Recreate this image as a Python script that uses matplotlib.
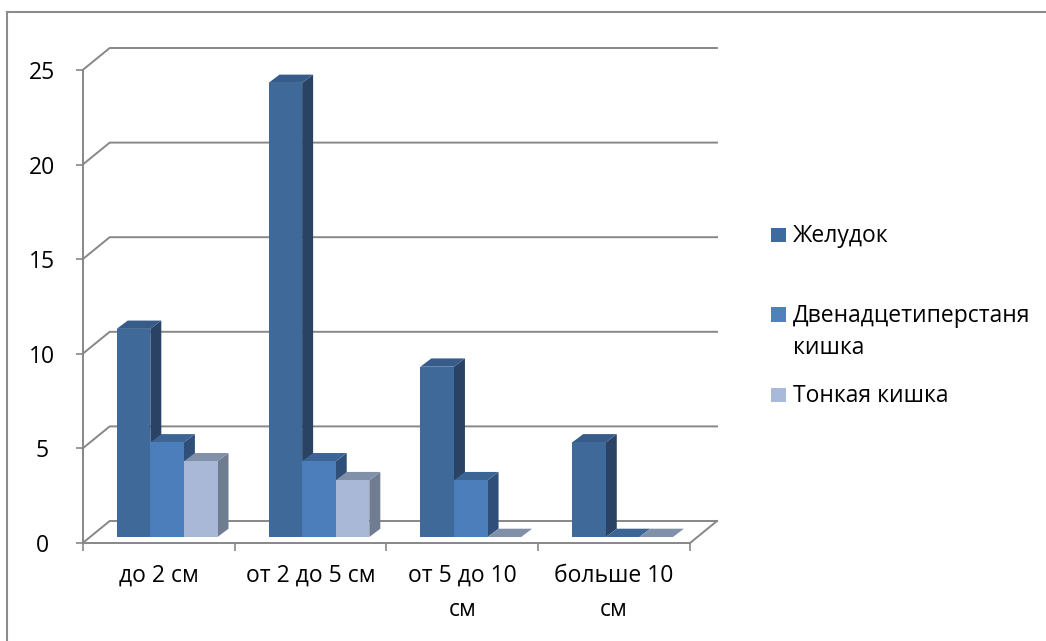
import matplotlib.pyplot as plt
from matplotlib.patches import Polygon, Rectangle
from matplotlib.lines import Line2D

# tumour size groups and counts per organ
categories = ["до 2 см", "от 2 до 5 см", "от 5 до 10\nсм", "больше 10\nсм"]
series = ["Желудок", "Двенадцетиперстаня\nкишка", "Тонкая кишка"]
stomach = [11, 24, 9, 5]
duodenum = [5, 4, 3, 0]
small_int = [4, 3, 0, 0]
y_ticks = [0, 5, 10, 15, 20, 25]

values = [stomach, duodenum, small_int]

# face colours: front, side, top
faces = [
    ("#3F6999", "#2A4264", "#375C8A"),
    ("#4B7EBB", "#2F4F78", "#3C6596"),
    ("#A9B8D6", "#6F7C92", "#8090A8"),
]
legend_colors = ["#3F6A9E", "#4F81BD", "#A8B9DA"]
grid_color = "#878787"
fs = 16.5

plt.rcParams['font.family'] = ['Open Sans', 'DejaVu Sans']

W, H = 1046, 641
fig = plt.figure(figsize=(W / 100, H / 100), dpi=100)

# axes spans the front plane of the chart (pixels 82.7..690, 543..70)
x0, x1, y0, y1 = 82.7, 690.0, 543.0, 70.0
ax = fig.add_axes([x0 / W, 1 - y0 / H, (x1 - x0) / W, (y0 - y1) / H])
ax.set_xlim(0, 4)
ax.set_ylim(0, 25)
ax.patch.set_alpha(0)

px_x = (x1 - x0) / 4      # pixels per category
px_y = (y0 - y1) / 25     # pixels per unit

# depth of the floor / back wall
DX, DY = 27 / px_x, 22 / px_y
# bar front plane offset and bar depth
OX, OY = 7 / px_x, 6 / px_y
BX, BY = 11 / px_x, 8.3 / px_y
bar_w = 33.6 / px_x
gap = 27 / px_x

# back wall gridlines with their slanted left segment
for v in y_ticks:
    ax.add_line(Line2D([0, DX, 4 + DX], [v, v + DY, v + DY],
                       color=grid_color, lw=1.4, clip_on=False, zorder=1))
ax.add_line(Line2D([4, 4 + DX], [0, DY], color=grid_color, lw=1.4,
                   clip_on=False, zorder=1))

# 3D-looking bars, drawn left to right so each covers the previous side face
z = 2
for c in range(len(categories)):
    for s in range(len(series)):
        v = values[s][c]
        front, side, top = faces[s]
        xl = c + gap + s * bar_w + OX
        xr = xl + bar_w
        yb = OY
        yt = OY + v
        if v > 0:
            ax.add_patch(Polygon([(xr, yb), (xr + BX, yb + BY), (xr + BX, yt + BY), (xr, yt)],
                                 closed=True, fc=side, ec="none", clip_on=False, zorder=z))
        ax.add_patch(Polygon([(xl, yt), (xr, yt), (xr + BX, yt + BY), (xl + BX, yt + BY)],
                             closed=True, fc=top, ec="none", clip_on=False, zorder=z))
        if v > 0:
            ax.add_patch(Polygon([(xl, yb), (xr, yb), (xr, yt), (xl, yt)],
                                 closed=True, fc=front, ec="none", clip_on=False, zorder=z))
        z += 1

# axes: left spine is the value axis, bottom spine the floor front edge
for side_name in ["top", "right"]:
    ax.spines[side_name].set_visible(False)
for side_name in ["left", "bottom"]:
    ax.spines[side_name].set_color(grid_color)
    ax.spines[side_name].set_linewidth(1.4)
    ax.spines[side_name].set_zorder(50)

ax.set_yticks(y_ticks)
ax.set_yticklabels([str(t) for t in y_ticks])
ax.tick_params(axis="y", direction="out", length=5, width=1.2, color=grid_color,
               pad=24, labelsize=fs, labelcolor="#000000")
for lab in ax.get_yticklabels():
    lab.set_horizontalalignment("center")

ax.set_xticks([0, 1, 2, 3, 4])
ax.set_xticklabels([])
ax.set_xticks([0.5, 1.5, 2.5, 3.5], minor=True)
ax.set_xticklabels(categories, minor=True)
ax.tick_params(axis="x", which="major", direction="out", length=6, width=1.2,
               color=grid_color)
ax.tick_params(axis="x", which="minor", length=0, pad=15, labelsize=fs,
               labelcolor="#000000")
for lab in ax.get_xticklabels(minor=True):
    lab.set_linespacing(1.55)
    lab.set_verticalalignment("top")

# legend on the right: one square per series, text lines on fixed baselines
leg_baselines = [[241.5], [321.5, 354.5], [401.5]]
for col, name, bases in zip(legend_colors, series, leg_baselines):
    fig.add_artist(Rectangle((771 / W, 1 - (bases[0] + 0.5) / H), 14.5 / W, 14.5 / H,
                             transform=fig.transFigure, fc=col, ec="none"))
    for line, yb in zip(name.split("\n"), bases):
        fig.text(793 / W, 1 - yb / H, line, ha="left", va="baseline",
                 fontsize=fs, color="#000000")

# chart frame
fig.add_artist(Line2D([7 / W, 1], [1 - 12 / H, 1 - 12 / H], transform=fig.transFigure,
                      color="#8C8C8C", lw=1.5))
fig.add_artist(Line2D([7 / W, 7 / W], [1 - 12 / H, 0], transform=fig.transFigure,
                      color="#8C8C8C", lw=1.5))

fig.savefig("out.png", dpi=100)
